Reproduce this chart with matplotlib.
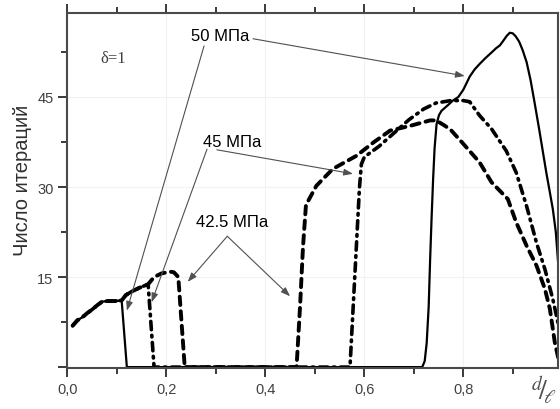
import matplotlib.pyplot as plt
from matplotlib.ticker import MultipleLocator, FixedLocator

# common start of the three curves
x_start = [0.0105, 0.02, 0.03, 0.04, 0.05, 0.06, 0.07, 0.08, 0.095, 0.1095]
y_start = [6.9, 7.8, 8.3, 9.0, 9.6, 10.3, 10.9, 11.0, 11.0, 11.1]

# 50 MPa (solid)
x50 = x_start + [0.12, 0.717, 0.722, 0.726, 0.730, 0.733, 0.736, 0.739, 0.742,
                 0.746, 0.751, 0.756, 0.767, 0.779, 0.79, 0.80, 0.813, 0.823,
                 0.833, 0.845, 0.857, 0.866, 0.874, 0.882, 0.888, 0.894, 0.90,
                 0.906, 0.913, 0.92, 0.928, 0.936, 0.944, 0.953, 0.961, 0.968,
                 0.975, 0.981, 0.987, 0.992]
y50 = y_start + [0.0, 0.0, 1.0, 4.0, 10.0, 18.0, 25.0, 31.3, 36.5,
                 40.5, 42.0, 42.7, 43.5, 44.4, 45.0, 46.2, 48.4, 49.6,
                 50.5, 51.5, 52.4, 53.1, 53.6, 54.5, 55.2, 55.7, 55.6,
                 55.1, 54.2, 52.8, 50.8, 47.8, 44.1, 39.8, 35.8, 32.3,
                 29.1, 26.3, 22.5, 17.0]

# 45 MPa (dash-dot)
x45 = x_start + [0.118, 0.13, 0.145, 0.163, 0.175, 0.571, 0.58, 0.59, 0.594,
                 0.60, 0.63, 0.66, 0.69, 0.72, 0.745, 0.775, 0.80, 0.813, 0.833,
                 0.857, 0.887, 0.907, 0.928, 0.948, 0.965, 0.981, 0.995]
y45 = y_start + [12.0, 12.6, 13.2, 13.8, 0.0, 0.0, 14.0, 29.7, 33.8,
                 35.0, 36.8, 39.0, 41.2, 43.0, 44.0, 44.4, 44.4, 44.2, 41.9,
                 39.7, 36.0, 32.4, 26.8, 20.7, 16.3, 11.3, 6.0]

# 42.5 MPa (dashed)
x42 = x_start + [0.118, 0.13, 0.145, 0.163, 0.175, 0.19, 0.207, 0.215, 0.224,
                 0.237, 0.463, 0.47, 0.476, 0.482, 0.503, 0.536, 0.584, 0.618,
                 0.652, 0.693, 0.733, 0.745, 0.763, 0.776, 0.80, 0.833, 0.857,
                 0.89, 0.907, 0.928, 0.948, 0.965, 0.975, 0.985, 0.992]
y42 = y_start + [12.0, 12.6, 13.2, 13.8, 15.0, 15.6, 15.9, 15.8, 15.0,
                 0.0, 0.0, 10.0, 20.0, 27.0, 30.2, 33.0, 35.2, 37.4,
                 39.4, 40.2, 41.1, 41.1, 40.2, 39.4, 37.2, 34.1, 30.8,
                 28.0, 24.1, 20.2, 16.9, 13.0, 9.7, 4.1, 1.5]

plt.rcParams['lines.scale_dashes'] = False
plt.rcParams['mathtext.fontset'] = 'stix'
plt.rcParams['font.family'] = ['Liberation Sans', 'DejaVu Sans']

fig = plt.figure(figsize=(5.6, 4.1), dpi=100)
ax = fig.add_axes([0.1205, 0.1, 0.876, 0.866])

ax.plot(x50, y50, color='black', lw=1.6, solid_joinstyle='round')
ax.plot(x45, y45, color='black', lw=2.6, dashes=[6, 4, 1.2, 4],
        dash_capstyle='round')
ax.plot(x42, y42, color='black', lw=2.8, dashes=[6, 4.5],
        dash_capstyle='round')

ax.set_xlim(0, 0.9915)
ax.set_ylim(-0.15, 59)

ax.xaxis.set_minor_locator(MultipleLocator(0.1))
ax.yaxis.set_major_locator(FixedLocator([0, 15, 30, 45]))
ax.yaxis.set_minor_locator(FixedLocator([7.5, 22.5, 37.5, 52.5]))
ax.set_xticks([0, 0.2, 0.4, 0.6, 0.8])
ax.set_xticklabels(['0,0', '0,2', '0,4', '0,6', '0,8'])
ax.set_yticklabels(['', '15', '30', '45'])

ax.grid(True, which='major', color='#f2f2f2', lw=0.8)
ax.set_axisbelow(True)

for side in ax.spines.values():
    side.set_color('#4a4a4a')
    side.set_linewidth(1.5)

# ticks on the bottom and top, pointing out
ax.xaxis.set_ticks_position('both')
ax.yaxis.set_ticks_position('left')
ax.tick_params(which='both', direction='out', color='#3a3a3a', width=1.4,
               labelsize=10.5, labelcolor='#404040')
ax.tick_params(which='major', length=6.5)
ax.tick_params(which='minor', length=4)

ax.set_ylabel('Число итераций', fontsize=14.5, color='#303030')
ax.yaxis.set_label_coords(-0.073, 0.53)

ax.text(0.092, 51.5, 'δ=1', family='Liberation Serif', fontsize=12,
        ha='center', va='center', color='#404040')

fig.text(0.972, 0.048, r'$^{d}\!/\!_{\ell}$', fontsize=20, color='#505050',
         ha='center', va='center')

arrow = dict(arrowstyle='-|>,head_length=0.55,head_width=0.2',
             color='#505050', lw=0.8, shrinkA=0, shrinkB=0)
lbl = dict(fontsize=12, ha='center', va='center', color='black')

ax.text(0.308, 55.2, '50 МПа', **lbl)
ax.annotate('', xy=(0.12, 9.4), xytext=(0.276, 53.5), arrowprops=arrow)
ax.annotate('', xy=(0.803, 48.5), xytext=(0.375, 54.7), arrowprops=arrow)

ax.text(0.332, 37.5, '45 МПа', **lbl)
ax.annotate('', xy=(0.17, 10.8), xytext=(0.282, 36.3), arrowprops=arrow)
ax.annotate('', xy=(0.577, 32.2), xytext=(0.302, 36.2), arrowprops=arrow)

ax.text(0.332, 24.2, '42.5 МПа', **lbl)
ax.annotate('', xy=(0.243, 14.2), xytext=(0.323, 21.8), arrowprops=arrow)
ax.annotate('', xy=(0.45, 11.8), xytext=(0.323, 21.8), arrowprops=arrow)

fig.savefig('out.png', dpi=100)
